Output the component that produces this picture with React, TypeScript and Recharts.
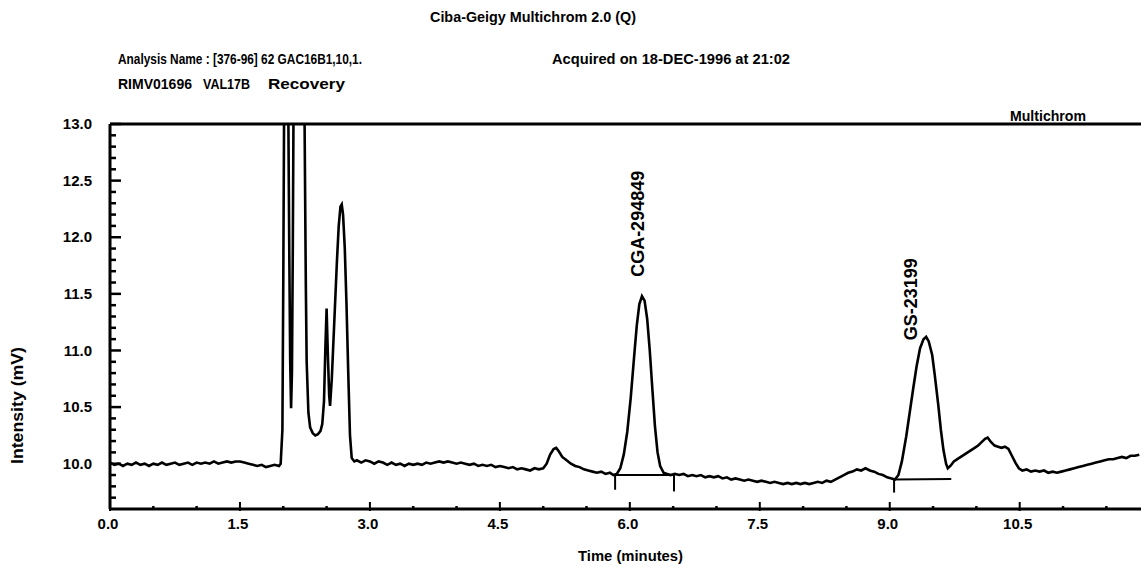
import { LineChart, Line, XAxis, YAxis, ReferenceLine, ReferenceDot } from 'recharts'

const FONT = '"Liberation Sans Narrow", "Liberation Sans", Arial, sans-serif'

// detector trace, [time (min), intensity (mV)]
const BASELINE_START: [number, number][] = [
  [0.0, 10.01], [0.05, 9.99], [0.1, 10.0], [0.15, 9.98], [0.2, 10.0], [0.25, 9.99], [0.3, 10.01],
  [0.35, 9.99], [0.4, 10.0], [0.45, 9.98], [0.5, 10.0], [0.55, 9.99], [0.6, 10.01], [0.65, 9.99],
  [0.7, 10.0], [0.75, 10.01], [0.8, 9.99], [0.85, 10.0], [0.9, 10.01], [0.95, 9.99], [1.0, 10.01],
  [1.05, 10.0], [1.1, 10.01], [1.15, 10.0], [1.2, 10.02], [1.25, 10.0], [1.3, 10.01], [1.35, 10.02],
  [1.4, 10.01], [1.45, 10.02], [1.5, 10.02], [1.55, 10.01], [1.6, 10.0], [1.65, 9.99], [1.7, 9.98],
  [1.75, 9.99], [1.8, 9.97], [1.85, 9.98], [1.9, 9.99], [1.95, 9.98],
]

const SOLVENT_FRONT: [number, number][] = [
  [1.97, 10.0], [1.99, 10.3], [2.0, 11.6], [2.01, 13.2], [2.03, 15.5], [2.05, 14.0], [2.07, 11.8],
  [2.08, 10.9], [2.09, 10.49], [2.1, 10.8], [2.11, 11.9], [2.12, 13.4], [2.16, 17.0], [2.21, 16.0],
  [2.24, 13.6], [2.26, 11.6], [2.27, 10.9], [2.29, 10.45], [2.31, 10.32], [2.34, 10.27], [2.37, 10.25],
  [2.4, 10.26], [2.43, 10.29], [2.45, 10.35], [2.47, 10.55], [2.485, 11.0], [2.5, 11.37],
  [2.515, 10.95], [2.53, 10.6], [2.54, 10.51],
]

const EARLY_PEAK: [number, number][] = [
  [2.56, 10.75], [2.58, 11.1], [2.6, 11.45], [2.62, 11.8], [2.64, 12.1], [2.66, 12.27], [2.675, 12.29],
  [2.69, 12.2], [2.71, 11.9], [2.73, 11.4], [2.75, 10.8], [2.77, 10.25], [2.79, 10.05], [2.82, 10.02],
]

const BASELINE_MID: [number, number][] = [
  [2.85, 10.03], [2.9, 10.01], [2.95, 10.03], [3.0, 10.02], [3.05, 10.0], [3.1, 10.02], [3.15, 10.01],
  [3.2, 9.99], [3.25, 10.01], [3.3, 9.99], [3.35, 10.0], [3.4, 9.98], [3.45, 10.0], [3.5, 9.99],
  [3.55, 10.0], [3.6, 9.99], [3.65, 10.01], [3.7, 10.0], [3.75, 10.01], [3.8, 10.02], [3.85, 10.01],
  [3.9, 10.02], [3.95, 10.01], [4.0, 10.0], [4.05, 10.01], [4.1, 10.0], [4.15, 9.99], [4.2, 10.0],
  [4.25, 9.98], [4.3, 9.99], [4.35, 9.98], [4.4, 9.99], [4.45, 9.97], [4.5, 9.98], [4.55, 9.97],
  [4.6, 9.96], [4.65, 9.97], [4.7, 9.95], [4.75, 9.96], [4.8, 9.95], [4.85, 9.94], [4.9, 9.96],
  [4.95, 9.95], [5.0, 9.96],
]

const SMALL_PEAK: [number, number][] = [
  [5.04, 10.0], [5.08, 10.08], [5.12, 10.13], [5.15, 10.14], [5.18, 10.11], [5.22, 10.06], [5.27, 10.03],
  [5.32, 10.0], [5.37, 9.98], [5.42, 9.97], [5.47, 9.95], [5.52, 9.94], [5.57, 9.93], [5.62, 9.92],
  [5.67, 9.93], [5.72, 9.91], [5.77, 9.92], [5.81, 9.9],
]

const CGA_PEAK: [number, number][] = [
  [5.85, 9.91], [5.89, 9.96], [5.93, 10.08], [5.97, 10.28], [6.01, 10.58], [6.05, 10.95], [6.08, 11.22],
  [6.11, 11.41], [6.14, 11.48], [6.17, 11.44], [6.2, 11.28], [6.23, 11.0], [6.26, 10.66], [6.29, 10.33],
  [6.32, 10.1], [6.35, 9.98], [6.39, 9.92], [6.43, 9.91],
]

const BASELINE_LATE: [number, number][] = [
  [6.47, 9.9], [6.52, 9.91], [6.57, 9.9], [6.62, 9.91], [6.67, 9.89], [6.72, 9.9], [6.77, 9.89],
  [6.82, 9.9], [6.87, 9.88], [6.92, 9.89], [6.97, 9.88], [7.02, 9.89], [7.07, 9.87], [7.12, 9.88],
  [7.17, 9.86], [7.22, 9.87], [7.27, 9.86], [7.32, 9.85], [7.37, 9.86], [7.42, 9.85], [7.47, 9.84],
  [7.52, 9.85], [7.57, 9.84], [7.62, 9.83], [7.67, 9.84], [7.72, 9.83], [7.77, 9.82], [7.82, 9.83],
  [7.87, 9.82], [7.92, 9.83], [7.97, 9.82], [8.02, 9.83], [8.07, 9.82], [8.12, 9.83], [8.17, 9.84],
  [8.22, 9.83], [8.27, 9.85], [8.32, 9.84], [8.37, 9.86], [8.42, 9.88], [8.47, 9.9], [8.52, 9.92],
  [8.57, 9.93], [8.62, 9.95], [8.67, 9.94], [8.72, 9.96], [8.77, 9.94], [8.82, 9.93], [8.87, 9.91],
  [8.92, 9.9], [8.97, 9.88], [9.02, 9.87],
]

const GS_PEAK: [number, number][] = [
  [9.06, 9.86], [9.1, 9.9], [9.14, 10.02], [9.19, 10.24], [9.23, 10.45], [9.27, 10.66], [9.31, 10.86],
  [9.35, 11.02], [9.39, 11.1], [9.42, 11.12], [9.45, 11.08], [9.49, 10.96], [9.52, 10.78], [9.56, 10.52],
  [9.59, 10.3], [9.62, 10.12], [9.65, 10.0], [9.67, 9.96],
]

const TAIL: [number, number][] = [
  [9.7, 9.98], [9.74, 10.02], [9.78, 10.04], [9.82, 10.06], [9.86, 10.08], [9.9, 10.1], [9.94, 10.12],
  [9.98, 10.14], [10.02, 10.16], [10.06, 10.19], [10.1, 10.22], [10.13, 10.23], [10.17, 10.19],
  [10.21, 10.16], [10.25, 10.15], [10.29, 10.14], [10.33, 10.15], [10.37, 10.13], [10.41, 10.07],
  [10.45, 10.01], [10.49, 9.96], [10.53, 9.94], [10.58, 9.95], [10.63, 9.93], [10.68, 9.94],
  [10.73, 9.93], [10.78, 9.94], [10.83, 9.92], [10.88, 9.93], [10.93, 9.92], [10.98, 9.93],
  [11.03, 9.94], [11.08, 9.95], [11.13, 9.96], [11.18, 9.97], [11.23, 9.98], [11.28, 9.99],
  [11.33, 10.0], [11.38, 10.01], [11.43, 10.02], [11.48, 10.03], [11.53, 10.04], [11.58, 10.04],
  [11.63, 10.05], [11.68, 10.06], [11.73, 10.05], [11.78, 10.07], [11.83, 10.07], [11.88, 10.08],
]

// integrator baselines and drop marks: [startTime, startMv, endTime, endMv]
const INTEGRATION_BASELINES: [number, number, number, number][] = [
  [5.83, 9.9, 6.51, 9.9],
  [9.05, 9.86, 9.71, 9.865],
]
const DROP_MARKS: [number, number, number][] = [
  [5.83, 9.9, 9.77],
  [6.51, 9.9, 9.755],
  [9.05, 9.86, 9.745],
]

const PEAK_NAMES = ['CGA-294849', 'GS-23199']
const PEAK_LABEL_TIMES = [6.09, 9.25]
const PEAK_LABEL_MV = [11.65, 11.09]

const X_TICKS = [0, 0.5, 1, 1.5, 2, 2.5, 3, 3.5, 4, 4.5, 5, 5.5, 6, 6.5, 7, 7.5, 8, 8.5, 9, 9.5, 10, 10.5, 11, 11.5]
const Y_TICKS = [
  9.7, 9.8, 9.9, 10.0, 10.1, 10.2, 10.3, 10.4, 10.5, 10.6, 10.7, 10.8, 10.9, 11.0, 11.1, 11.2, 11.3,
  11.4, 11.5, 11.6, 11.7, 11.8, 11.9, 12.0, 12.1, 12.2, 12.3, 12.4, 12.5, 12.6, 12.7, 12.8, 12.9, 13.0,
]

const trace = [
  ...BASELINE_START, ...SOLVENT_FRONT, ...EARLY_PEAK, ...BASELINE_MID, ...SMALL_PEAK,
  ...CGA_PEAK, ...BASELINE_LATE, ...GS_PEAK, ...TAIL,
].map(([time, mv]) => ({ time, mv }))

function TimeTick(props: any) {
  const { x, y, payload } = props
  const v = payload.value
  const major = Math.abs(v / 1.5 - Math.round(v / 1.5)) < 1e-6
  return (
    <g>
      <line x1={x} x2={x} y1={y - (major ? 7 : 3)} y2={y + (major ? 2 : 1)} stroke="#000" strokeWidth={major ? 2 : 2.5} />
      {major && (
        <text x={x - 2} y={y + 20} textAnchor="middle" fontFamily={FONT} fontWeight="bold" fontSize={15} fill="#000">
          {v.toFixed(1)}
        </text>
      )}
    </g>
  )
}

function IntensityTick(props: any) {
  const { x, y, payload } = props
  const v = payload.value
  const major = Math.abs(v * 2 - Math.round(v * 2)) < 1e-6
  return (
    <g>
      <line x1={x} x2={x + (major ? 11 : 6)} y1={y} y2={y} stroke="#000" strokeWidth={2.5} />
      {major && (
        <text x={x - 18} y={y} dy="0.35em" textAnchor="end" fontFamily={FONT} fontWeight="bold" fontSize={15} fill="#000">
          {v.toFixed(1)}
        </text>
      )}
    </g>
  )
}

function peakLabel(name: string) {
  return (props: any) => {
    const vb = props.viewBox || {}
    const cx = vb.x + (vb.width || 0) / 2
    const cy = vb.y + (vb.height || 0) / 2
    return (
      <text
        x={cx}
        y={cy}
        transform={`rotate(-90 ${cx} ${cy})`}
        textAnchor="start"
        dominantBaseline="central"
        fontFamily='"Liberation Sans", Arial, sans-serif'
        fontWeight="bold"
        fontSize={18}
        fill="#000"
      >
        {name}
      </text>
    )
  }
}

export default function App() {
  return (
    <div style={{ position: 'absolute', left: 0, top: 0, width: 1141, height: 569, background: '#fff', overflow: 'hidden' }}>
      <LineChart width={1141} height={569} data={trace} margin={{ top: 124, right: 0, bottom: 30, left: 0 }}>
        <XAxis
          dataKey="time"
          type="number"
          domain={[0, 11.9]}
          ticks={X_TICKS}
          interval={0}
          tickSize={0}
          tickMargin={0}
          height={30}
          allowDataOverflow
          axisLine={{ stroke: '#000', strokeWidth: 3 }}
          tick={(p: any) => <TimeTick {...p} />}
        />
        <YAxis
          type="number"
          domain={[9.6, 13]}
          ticks={Y_TICKS}
          interval={0}
          tickSize={0}
          tickMargin={0}
          width={110}
          allowDataOverflow
          axisLine={{ stroke: '#000', strokeWidth: 3 }}
          tick={(p: any) => <IntensityTick {...p} />}
        />
        <ReferenceLine y={13} stroke="#000" strokeWidth={3} />
        {INTEGRATION_BASELINES.map(([t0, v0, t1, v1], i) => (
          <ReferenceLine key={`b${i}`} segment={[{ x: t0, y: v0 }, { x: t1, y: v1 }]} stroke="#000" strokeWidth={2} />
        ))}
        {DROP_MARKS.map(([t, v0, v1], i) => (
          <ReferenceLine key={`d${i}`} segment={[{ x: t, y: v0 }, { x: t, y: v1 }]} stroke="#000" strokeWidth={2} />
        ))}
        <Line
          type="linear"
          dataKey="mv"
          stroke="#000"
          strokeWidth={2.6}
          dot={false}
          isAnimationActive={false}
        />
        {PEAK_NAMES.map((name, i) => (
          <ReferenceDot
            key={name}
            x={PEAK_LABEL_TIMES[i]}
            y={PEAK_LABEL_MV[i]}
            r={0}
            stroke="none"
            fill="none"
            label={peakLabel(name)}
          />
        ))}
      </LineChart>
      <svg width={1141} height={569} style={{ position: 'absolute', left: 0, top: 0, pointerEvents: 'none' }}>
        <g fontFamily={FONT} fill="#000" fontSize={15} fontWeight="bold">
          <text x={430} y={22} textLength={206} lengthAdjust="spacingAndGlyphs">Ciba-Geigy Multichrom 2.0 (Q)</text>
          <text x={118} y={64} textLength={244} lengthAdjust="spacingAndGlyphs">Analysis Name : [376-96] 62 GAC16B1,10,1.</text>
          <text x={118} y={89} textLength={74} lengthAdjust="spacingAndGlyphs">RIMV01696</text>
          <text x={203} y={89} textLength={47} lengthAdjust="spacingAndGlyphs">VAL17B</text>
          <text x={268} y={89} textLength={77} lengthAdjust="spacingAndGlyphs">Recovery</text>
          <text x={552} y={64} textLength={238} lengthAdjust="spacingAndGlyphs">Acquired on 18-DEC-1996 at 21:02</text>
          <text x={1010} y={121} textLength={76} lengthAdjust="spacingAndGlyphs">Multichrom</text>
          <text x={578} y={561} textLength={105} lengthAdjust="spacingAndGlyphs">Time (minutes)</text>
          <text
            x={0}
            y={0}
            transform="translate(23 464) rotate(-90)"
            fontSize={16}
            textLength={117}
            lengthAdjust="spacingAndGlyphs"
          >
            Intensity (mV)
          </text>
        </g>
      </svg>
    </div>
  )
}
